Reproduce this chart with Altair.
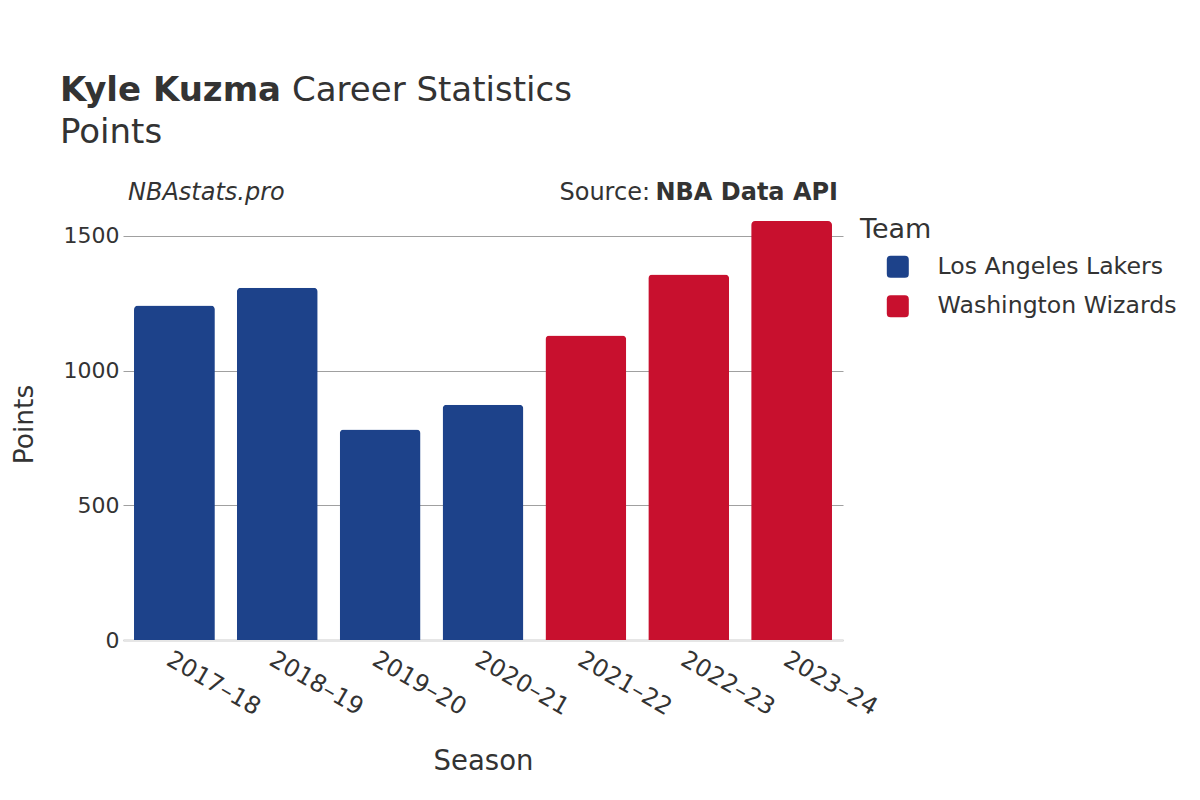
import altair as alt
import pandas as pd

seasons = ["2017–18", "2018–19", "2019–20", "2020–21", "2021–22", "2022–23", "2023–24"]
teams = ["Los Angeles Lakers"] * 4 + ["Washington Wizards"] * 3
points = [1242, 1308, 781, 873, 1130, 1357, 1555]

team_names = ["Los Angeles Lakers", "Washington Wizards"]
team_colors = ["#1d428a", "#c8102e"]

df = pd.DataFrame({"Season": seasons, "Team": teams, "Points": points})

FONT = "DejaVu Sans"
TXT = "#333333"
W, H = 720, 431

rounded = "M-0.65,-1H0.65Q1,-1,1,-0.65V0.65Q1,1,0.65,1H-0.65Q-1,1,-1,0.65V-0.65Q-1,-1,-0.65,-1Z"

bars = alt.Chart(df).mark_bar(cornerRadiusTopLeft=4, cornerRadiusTopRight=4).encode(
    x=alt.X("Season:N", sort=seasons,
            scale=alt.Scale(paddingInner=0.214, paddingOuter=0.107),
            axis=alt.Axis(title="Season", labelAngle=30, labelAlign="left", labelBaseline="top",
                          labelPadding=7, labelFontSize=24, labelColor=TXT, labelFont=FONT,
                          ticks=False, domain=True, domainColor="#e6e6e6", domainWidth=3,
                          titleFontSize=27.5, titleFont=FONT, titleColor=TXT, titleFontWeight="normal",
                          titleX=360, titleY=121, titleAlign="center", titleBaseline="middle")),
    y=alt.Y("Points:Q", scale=alt.Scale(domain=[0, 1600], nice=False),
            axis=alt.Axis(title="Points", values=[0, 500, 1000, 1500], format="d", labelFontSize=22,
                          labelColor=TXT, labelFont=FONT, labelPadding=4, ticks=False, domain=False,
                          grid=True, gridColor="#a0a0a0", gridWidth=1,
                          titleFontSize=26.5, titleFont=FONT, titleColor=TXT, titleFontWeight="normal",
                          titleAngle=-90, titleX=-99, titleY=215, titleAlign="center",
                          titleBaseline="middle")),
    color=alt.Color("Team:N", scale=alt.Scale(domain=team_names, range=team_colors),
                    legend=alt.Legend(title=None, orient="none", legendX=763, legendY=46,
                                      symbolType=rounded, symbolSize=484, symbolStrokeWidth=0,
                                      labelFontSize=23.6, labelFont=FONT, labelColor=TXT, labelLimit=0,
                                      labelOffset=28, rowPadding=14.5, padding=0)),
)

one = alt.Data(values=[{"k": 1}])

def label(text, x, y, size, weight="normal", style="normal", align="left"):
    return alt.Chart(one).mark_text(text=text, font=FONT, fontSize=size, fontWeight=weight,
                                    fontStyle=style, color=TXT, align=align,
                                    baseline="alphabetic").encode(x=alt.value(x), y=alt.value(y))

texts = [
    label("Kyle Kuzma", -63, -108, 34, weight="bold"),
    label("Career Statistics", 169, -108, 34),
    label("Points", -63, -66, 34),
    label("NBAstats.pro", 5, -9, 24, style="italic"),
    label("Source:", 527, -9, 24, align="right"),
    label("NBA Data API", 715, -9, 24, weight="bold", align="right"),
    label("Team", 737, 29, 27),
]

chart = alt.layer(bars, *texts).properties(
    width=W, height=H,
    padding={"left": 115, "top": 201, "right": 349, "bottom": 150},
    autosize=alt.AutoSizeParams(type="none"),
).configure(background="white").configure_view(stroke=None, strokeWidth=0)

chart.save("out.html", embed_options={"renderer": "svg", "actions": False})
